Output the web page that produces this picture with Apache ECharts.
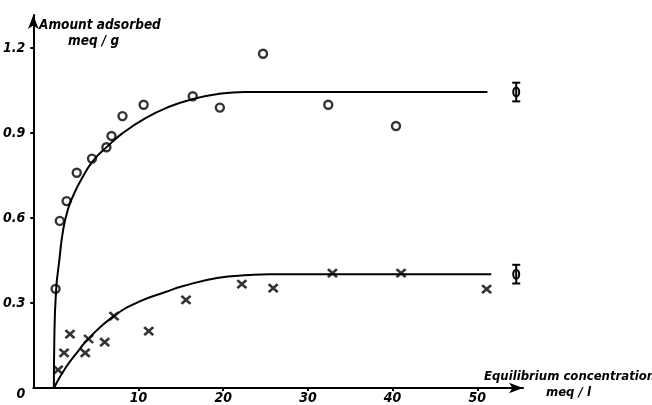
<!DOCTYPE html>
<html><head><meta charset="utf-8">
<script src="https://cdn.jsdelivr.net/npm/echarts@6/dist/echarts.min.js"></script>
<style>html,body{margin:0;padding:0;background:#fff}#c{width:652px;height:405px}</style>
</head><body><div id="c"></div>
<script>
// Tick values and labels
const xTicks = [10, 20, 30, 40, 50];
const yTicks = [0, 0.3, 0.6, 0.9, 1.2];
const yTickLabels = ['0', '0.3', '0.6', '0.9', '1.2'];

// Upper set: measured points (circles) and fitted curve
const upperX = [0.2, 0.7, 1.5, 2.7, 4.5, 6.2, 6.8, 8.1, 10.6, 16.4, 19.6, 24.7, 32.4, 40.4];
const upperY = [0.35, 0.59, 0.66, 0.76, 0.81, 0.85, 0.89, 0.96, 1.0, 1.03, 0.99, 1.18, 1.0, 0.925];
const upperCurveX = [0, 0.05, 0.26, 0.62, 1.09, 1.67, 2.37, 3.2, 4.6, 6.36, 8.12, 10.82, 13.52, 16.34, 19.38, 22.55, 51.2];
const upperCurveY = [0, 0.169, 0.346, 0.445, 0.558, 0.632, 0.685, 0.734, 0.801, 0.854, 0.9, 0.953, 0.992, 1.02, 1.038, 1.045, 1.045];

// Lower set: measured points (crosses) and fitted curve
const lowerX = [0.5, 1.2, 1.9, 3.7, 4.1, 6.0, 7.1, 11.2, 15.6, 22.2, 25.9, 32.9, 41.0, 51.1];
const lowerY = [0.064, 0.124, 0.19, 0.124, 0.173, 0.162, 0.254, 0.201, 0.311, 0.367, 0.353, 0.406, 0.406, 0.349];
const lowerCurveX = [0, 1.44, 2.96, 4.13, 6.95, 10.0, 13.17, 15.28, 19.27, 23.14, 25.5, 51.65];
const lowerCurveY = [0, 0.074, 0.134, 0.176, 0.251, 0.304, 0.339, 0.36, 0.388, 0.399, 0.402, 0.402];

// Error-bar glyphs at right end
const errX = [54.6, 54.6];
const errY = [1.045, 0.402];
const errHalf = [0.033, 0.033];

const zip = (a, b) => a.map((v, i) => [v, b[i]]);
const FONT = '"DejaVu Sans Condensed", "DejaVu Sans", sans-serif';

const chart = echarts.init(document.getElementById('c'), null, {renderer: 'canvas'});
chart.setOption({
  backgroundColor: '#fff',
  animation: false,
  grid: {left: 32, right: 129, top: 15, bottom: 17, containLabel: false},
  xAxis: {
    type: 'value', min: -2.43, max: 55.4,
    axisLine: {show: true, onZero: false, symbol: ['none', 'arrow'], symbolSize: [8, 14], lineStyle: {color: '#000', width: 2}},
    axisTick: {show: true, customValues: xTicks, length: 3, lineStyle: {color: '#000', width: 2}},
    axisLabel: {customValues: xTicks, margin: 3, color: '#000', fontFamily: FONT, fontStyle: 'italic', fontWeight: 'bold', fontSize: 14},
    splitLine: {show: false}
  },
  yAxis: {
    type: 'value', min: 0, max: 1.317,
    axisLine: {show: true, onZero: false, symbol: ['none', 'arrow'], symbolSize: [8, 14], lineStyle: {color: '#000', width: 2}},
    axisTick: {show: true, customValues: yTicks.slice(1), length: 3, lineStyle: {color: '#000', width: 2}},
    axisLabel: {
      customValues: yTicks, margin: 8, color: '#000', fontFamily: FONT, fontStyle: 'italic', fontWeight: 'bold', fontSize: 14,
      formatter: v => {
        const i = yTicks.findIndex(t => Math.abs(t - v) < 1e-9);
        const s = i >= 0 ? yTickLabels[i] : '';
        return v === 0 ? '{z|' + s + '}' : s;
      },
      rich: {z: {padding: [12, 0, 0, 0], fontFamily: FONT, fontStyle: 'italic', fontWeight: 'bold', fontSize: 14, color: '#000'}}
    },
    splitLine: {show: false}
  },
  series: [
    {type: 'line', data: zip(upperCurveX, upperCurveY), smooth: 0.5, showSymbol: false, lineStyle: {color: '#000', width: 2}},
    {type: 'line', data: zip(lowerCurveX, lowerCurveY), smooth: 0.5, showSymbol: false, lineStyle: {color: '#000', width: 2}},
    {type: 'scatter', data: zip(upperX, upperY), symbol: 'circle', symbolSize: 8,
      itemStyle: {color: '#fff', borderColor: '#000', borderWidth: 2.4}},
    {type: 'scatter', data: zip(lowerX, lowerY), symbol: 'path://M0,0L10,9M10,0L0,9', symbolSize: [9, 8],
      itemStyle: {color: 'none', borderColor: '#000', borderWidth: 2.6}},
    {type: 'custom', data: errX.map((x, i) => [x, errY[i], errHalf[i]]),
      renderItem: (params, api) => {
        const x = api.value(0), y = api.value(1), h = api.value(2);
        const c = api.coord([x, y]);
        const top = api.coord([x, y + h]);
        const bot = api.coord([x, y - h]);
        const st = {stroke: '#000', lineWidth: 2, fill: 'none'};
        return {type: 'group', children: [
          {type: 'line', shape: {x1: c[0], y1: top[1], x2: c[0], y2: bot[1]}, style: st},
          {type: 'line', shape: {x1: c[0] - 4, y1: top[1], x2: c[0] + 4, y2: top[1]}, style: st},
          {type: 'line', shape: {x1: c[0] - 4, y1: bot[1], x2: c[0] + 4, y2: bot[1]}, style: st},
          {type: 'ellipse', shape: {cx: c[0], cy: c[1], rx: 3, ry: 4.5}, style: st}
        ]};
      }
    }
  ],
  graphic: [
    {type: 'text', x: 39, y: 25, style: {text: 'Amount adsorbed', font: 'italic bold 13.5px ' + FONT, fill: '#000', verticalAlign: 'middle'}},
    {type: 'text', x: 68, y: 41, style: {text: 'meq / g', font: 'italic bold 13.5px ' + FONT, fill: '#000', verticalAlign: 'middle'}},
    {type: 'text', x: 484, y: 377, style: {text: 'Equilibrium concentration', font: 'italic bold 13px ' + FONT, fill: '#000', verticalAlign: 'middle'}},
    {type: 'text', x: 546, y: 393, style: {text: 'meq / l', font: 'italic bold 13px ' + FONT, fill: '#000', verticalAlign: 'middle'}}
  ]
});
</script></body></html>
